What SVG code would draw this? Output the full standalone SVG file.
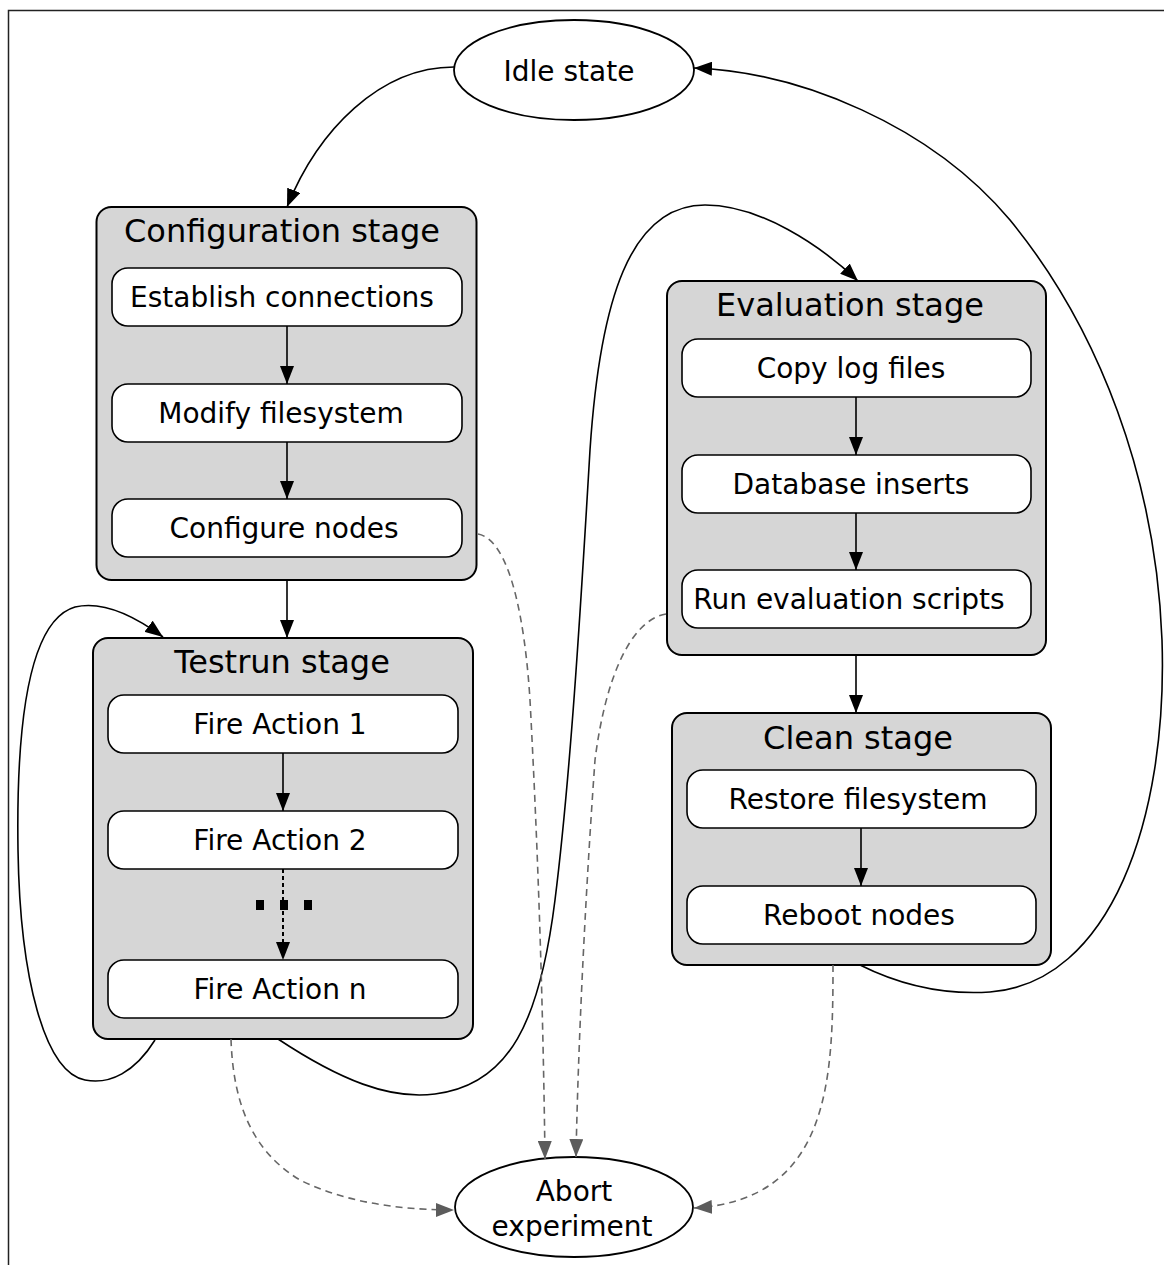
<svg xmlns="http://www.w3.org/2000/svg" width="1164" height="1265" viewBox="0 0 1164 1265">
<defs>
<style>
text{font-family:"DejaVu Sans","Liberation Sans",sans-serif;fill:#000;text-anchor:middle}
.t{font-size:32px}
.s{font-size:28px}
.outer{fill:#d6d6d6;stroke:#000;stroke-width:2}
.inner{fill:#fff;stroke:#000;stroke-width:1.6}
.ell{fill:#fff;stroke:#000;stroke-width:1.8}
.c{fill:none;stroke:#000;stroke-width:1.6}
.d{fill:none;stroke:#666;stroke-width:1.6;stroke-dasharray:7,5}
.dot{fill:none;stroke:#000;stroke-width:2;stroke-dasharray:4,3}
</style>
<marker id="a" markerUnits="userSpaceOnUse" markerWidth="18" markerHeight="14" refX="18" refY="7" orient="auto" viewBox="0 0 18 14"><path d="M0,0 L18,7 L0,14 z" fill="#000"/></marker>
<marker id="g" markerUnits="userSpaceOnUse" markerWidth="18" markerHeight="14" refX="18" refY="7" orient="auto" viewBox="0 0 18 14"><path d="M0,0 L18,7 L0,14 z" fill="#5c5c5c"/></marker>
</defs>
<rect width="1164" height="1265" fill="#fff"/>
<path d="M8.5,1265 V10.5 H1164" fill="none" stroke="#222" stroke-width="1.5"/>

<g id="idle"><ellipse class="ell" cx="574" cy="70" rx="120" ry="50"/><text class="s" x="569" y="81">Idle state</text></g>

<g id="config">
<rect class="outer" x="96.5" y="207" width="380" height="373" rx="15"/>
<text class="t" x="282" y="242">Configuration stage</text>
<g id="establish"><rect class="inner" x="112" y="268" width="350" height="58" rx="16"/><text class="s" x="282" y="307">Establish connections</text></g>
<g id="modify"><rect class="inner" x="112" y="384" width="350" height="58" rx="16"/><text class="s" x="281" y="423">Modify filesystem</text></g>
<g id="configure"><rect class="inner" x="112" y="499" width="350" height="58" rx="16"/><text class="s" x="284" y="538">Configure nodes</text></g>
</g>

<g id="testrun">
<rect class="outer" x="93" y="638" width="380" height="401" rx="15"/>
<text class="t" x="282" y="673">Testrun stage</text>
<g id="fire1"><rect class="inner" x="108" y="695" width="350" height="58" rx="16"/><text class="s" x="280" y="734">Fire Action 1</text></g>
<g id="fire2"><rect class="inner" x="108" y="811" width="350" height="58" rx="16"/><text class="s" x="280" y="850">Fire Action 2</text></g>
<g id="firen"><rect class="inner" x="108" y="960" width="350" height="58" rx="16"/><text class="s" x="280" y="999">Fire Action n</text></g>
<g id="ellipsis" fill="#000"><rect x="256" y="900" width="8" height="10"/><rect x="280" y="900" width="8" height="10"/><rect x="304" y="900" width="8" height="10"/></g>
</g>

<g id="eval">
<rect class="outer" x="667" y="281" width="379" height="374" rx="15"/>
<text class="t" x="850" y="316">Evaluation stage</text>
<g id="copy"><rect class="inner" x="682" y="339" width="349" height="58" rx="16"/><text class="s" x="851" y="378">Copy log files</text></g>
<g id="db"><rect class="inner" x="682" y="455" width="349" height="58" rx="16"/><text class="s" x="851" y="494">Database inserts</text></g>
<g id="run"><rect class="inner" x="682" y="570" width="349" height="58" rx="16"/><text class="s" x="849" y="609">Run evaluation scripts</text></g>
</g>

<g id="clean">
<rect class="outer" x="672" y="713" width="379" height="252" rx="15"/>
<text class="t" x="858" y="749">Clean stage</text>
<g id="restore"><rect class="inner" x="687" y="770" width="349" height="58" rx="16"/><text class="s" x="858" y="809">Restore filesystem</text></g>
<g id="reboot"><rect class="inner" x="687" y="886" width="349" height="58" rx="16"/><text class="s" x="859" y="925">Reboot nodes</text></g>
</g>

<g id="abort"><ellipse class="ell" cx="574" cy="1207" rx="119" ry="50"/><text class="s" x="574" y="1201">Abort</text><text class="s" x="572" y="1236">experiment</text></g>

<g id="connectors">
<path class="c" marker-end="url(#a)" d="M454,67 C380,67 318,130 287,207"/>
<path class="c" marker-end="url(#a)" d="M287,326 L287,384"/>
<path class="c" marker-end="url(#a)" d="M287,442 L287,499"/>
<path class="c" marker-end="url(#a)" d="M287,580 L287,638"/>
<path class="c" marker-end="url(#a)" d="M283,753 L283,811"/>
<path class="dot" marker-end="url(#a)" d="M283,869 L283,960"/>
<path class="c" marker-end="url(#a)" d="M155,1040 C135,1072 110,1085 85,1080 C45,1072 20,980 18,850 C16,720 30,620 75,607 C105,600 140,620 163,637"/>
<path class="c" marker-end="url(#a)" d="M278,1039 C340,1080 390,1100 435,1094 C510,1085 540,1020 555,900 C570,780 580,620 590,450 C600,300 630,205 705,205 C760,205 820,245 858,281"/>
<path class="c" marker-end="url(#a)" d="M856,397 L856,455"/>
<path class="c" marker-end="url(#a)" d="M856,513 L856,570"/>
<path class="c" marker-end="url(#a)" d="M856,655 L856,713"/>
<path class="c" marker-end="url(#a)" d="M861,828 L861,886"/>
<path class="c" marker-end="url(#a)" d="M860,965 C900,985 945,995 990,992 C1110,983 1168,820 1162,640 C1156,480 1100,330 1010,220 C930,125 800,72 694,68"/>
<path class="d" marker-end="url(#g)" d="M478,534 C510,540 525,620 530,700 C538,850 543,1000 545,1159"/>
<path class="d" marker-end="url(#g)" d="M666,614 C630,620 605,680 595,760 C585,900 578,1050 576,1157"/>
<path class="d" marker-end="url(#g)" d="M231,1039 C233,1100 250,1150 300,1180 C350,1205 410,1210 454,1210"/>
<path class="d" marker-end="url(#g)" d="M833,965 C833,1080 830,1200 694,1208"/>
</g>
</svg>
